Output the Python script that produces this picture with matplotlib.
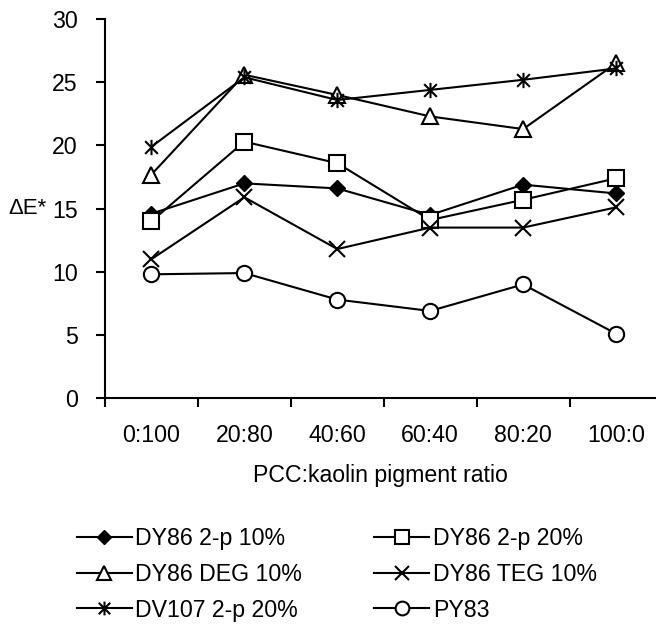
import matplotlib.pyplot as plt
from matplotlib.path import Path

plt.rcParams['font.family'] = ['Liberation Sans', 'DejaVu Sans']

ratios = ["0:100", "20:80", "40:60", "60:40", "80:20", "100:0"]

dy86_2p_10 = [14.6, 17.0, 16.6, 14.5, 16.9, 16.2]
dy86_2p_20 = [14.0, 20.3, 18.6, 14.1, 15.7, 17.4]
dy86_deg_10 = [17.7, 25.6, 24.0, 22.3, 21.3, 26.5]
dy86_teg_10 = [11.0, 15.9, 11.8, 13.5, 13.5, 15.1]
dv107_2p_20 = [19.9, 25.4, 23.6, 24.4, 25.2, 26.1]
py83 = [9.8, 9.9, 7.8, 6.9, 9.0, 5.1]

# asterisk marker: x plus vertical bar
asterisk = Path([(-1, -1), (1, 1), (-1, 1), (1, -1), (0, -1.2), (0, 1.2)],
                [Path.MOVETO, Path.LINETO, Path.MOVETO, Path.LINETO,
                 Path.MOVETO, Path.LINETO])

fs = 16.7
fig = plt.figure(figsize=(6.56, 6.39), dpi=100)
ax = fig.add_axes([0.160, 0.377, 0.840, 0.593])

x = range(len(ratios))
lw = 1.5
ax.plot(x, dy86_2p_10, color="black", lw=lw, marker="D", ms=8,
        mfc="black", mec="black", label="DY86 2-p 10%")
ax.plot(x, dy86_2p_20, color="black", lw=lw, marker="s", ms=11,
        mfc="white", mec="black", mew=1.5, label="DY86 2-p 20%")
ax.plot(x, dy86_deg_10, color="black", lw=lw, marker="^", ms=11,
        mfc="white", mec="black", mew=1.5, label="DY86 DEG 10%")
ax.plot(x, dy86_teg_10, color="black", lw=lw, marker="x", ms=11,
        mec="black", mew=1.5, label="DY86 TEG 10%")
ax.plot(x, dv107_2p_20, color="black", lw=lw, marker=asterisk, ms=11,
        mfc="none", mec="black", mew=1.5, label="DV107 2-p 20%")
ax.plot(x, py83, color="black", lw=lw, marker="o", ms=11,
        mfc="white", mec="black", mew=1.5, label="PY83")

ax.set_xlim(-0.5, 5.43)
ax.set_ylim(0, 30)
ax.set_yticks(range(0, 31, 5))
ax.set_xticks(list(x))
ax.set_xticklabels(ratios)
ax.set_xticks([i - 0.5 for i in range(6)], minor=True)
ax.tick_params(axis="x", which="major", length=0, pad=19, labelsize=fs)
ax.tick_params(axis="x", which="minor", length=6.5, width=1.5, direction="out")
ax.tick_params(axis="y", length=6.5, width=1.5, direction="out",
               labelsize=fs, pad=13)

for s in ["top", "right"]:
    ax.spines[s].set_visible(False)
for s in ["left", "bottom"]:
    ax.spines[s].set_linewidth(1.5)

ax.set_xlabel("PCC:kaolin pigment ratio", fontsize=fs, labelpad=12)
ax.set_ylabel("ΔE*", fontsize=16, rotation=0, ha="right", va="center")
ax.yaxis.set_label_coords(-0.105, 0.5)

# row-major order like the original legend
handles, labels = ax.get_legend_handles_labels()
order = [0, 2, 4, 1, 3, 5]
fig.legend([handles[i] for i in order], [labels[i] for i in order],
           loc="upper left", bbox_to_anchor=(77 / 656, 1 - 527 / 639),
           ncol=2, frameon=False, fontsize=fs, handlelength=2.37,
           handletextpad=0.15, columnspacing=3.1, labelspacing=0.55,
           borderaxespad=0, borderpad=0, markerscale=0.9)

fig.savefig("out.png", dpi=100)
